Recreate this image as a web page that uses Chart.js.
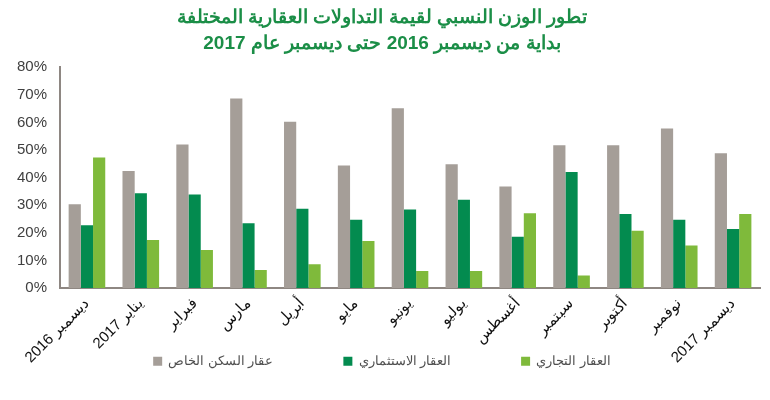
<!DOCTYPE html>
<html lang="ar">
<head>
<meta charset="utf-8">
<script src="https://cdn.jsdelivr.net/npm/chart.js@4/dist/chart.umd.min.js"></script>
<style>
  html, body { margin: 0; padding: 0; background: #fff; }
  #wrap { width: 770px; height: 400px; }
  #chart { direction: rtl; }
</style>
</head>
<body>
<div id="wrap"><canvas id="chart" width="770" height="400"></canvas></div>
<script>
// months, Dec 2016 .. Dec 2017
const months = ['ديسمبر 2016', 'يناير 2017', 'فبراير', 'مارس', 'أبريل', 'مايو', 'يونيو',
                'يوليو', 'أغسطس', 'سبتمبر', 'أكتوبر', 'نوفمبر', 'ديسمبر 2017'];

// share of total value, %
const privateHousing = [30.3, 42.4, 52, 68.7, 60.2, 44.4, 65.1, 44.8, 36.8, 51.7, 51.7, 57.8, 48.8];
const investment     = [22.7, 34.3, 33.9, 23.5, 28.7, 24.7, 28.4, 32, 18.6, 42, 26.8, 24.7, 21.4];
const commercial     = [47.3, 17.4, 13.8, 6.5, 8.6, 17, 6.2, 6.2, 27.1, 4.5, 20.7, 15.4, 26.8];

const seriesNames = ['عقار السكن الخاص', 'العقار الاستثماري', 'العقار التجاري'];
const titleLines = ['تطور الوزن النسبي لقيمة التداولات العقارية المختلفة',
                    'بداية من ديسمبر 2016 حتى ديسمبر عام 2017'];

const colGray = '#a59e98';
const colDark = '#038b4f';
const colLight = '#7fba3b';

const legendGap = 70;   // horizontal gap between legend items (chart.js also uses it as vertical padding)

// legend padding is both the item gap and the vertical padding, so the box is
// capped with maxHeight and its top moved up so the row sits among the slanted labels
const legendShift = {
    id: 'legendShift',
    afterLayout(chart) {
        const lg = chart.legend;
        lg.top = 355 - legendGap;
        lg.bottom = 385;
    }
};

const ctx = document.getElementById('chart');
new Chart(ctx, {
    type: 'bar',
    data: {
        labels: months,
        datasets: [
            { label: seriesNames[0], data: privateHousing, backgroundColor: colGray },
            { label: seriesNames[1], data: investment, backgroundColor: colDark },
            { label: seriesNames[2], data: commercial, backgroundColor: colLight }
        ]
    },
    plugins: [legendShift],
    options: {
        responsive: false,
        animation: false,
        datasets: {
            bar: { categoryPercentage: 0.68, barPercentage: 1, borderWidth: 0 }
        },
        layout: { padding: { left: 4, right: 10, bottom: 22 } },
        scales: {
            x: {
                grid: { display: false, drawTicks: false },
                border: { color: '#8e8782', width: 2 },
                ticks: {
                    minRotation: 45, maxRotation: 45,
                    color: '#111',
                    font: { family: 'Liberation Sans, Arial, sans-serif', size: 15 },
                    padding: 7
                },
                // keep the axis box short and let the labels run past it unclipped
                afterFit: function (axis) {
                    axis.height = 57;
                    axis._computeLabelArea = function () { return undefined; };
                }
            },
            y: {
                min: 0, max: 80,
                grid: { display: false, drawTicks: false },
                border: { color: '#8e8782', width: 2 },
                ticks: {
                    stepSize: 10,
                    color: '#404040',
                    padding: 13,
                    font: { family: 'Liberation Sans, Arial, sans-serif', size: 15 },
                    callback: v => v + '%'
                }
            }
        },
        plugins: {
            tooltip: { enabled: false },
            title: {
                display: true,
                text: titleLines,
                color: '#1b8e47',
                font: { family: 'Liberation Sans, Arial, sans-serif', size: 19, weight: 'bold', lineHeight: 1.4 },
                padding: { top: 4, bottom: 10 }
            },
            legend: {
                position: 'bottom',
                maxHeight: 33,
                labels: {
                    boxWidth: 9, boxHeight: 9,
                    padding: legendGap,
                    color: '#505050',
                    font: { family: 'Liberation Sans, Arial, sans-serif', size: 12.5 }
                }
            }
        }
    }
});
</script>
</body>
</html>
